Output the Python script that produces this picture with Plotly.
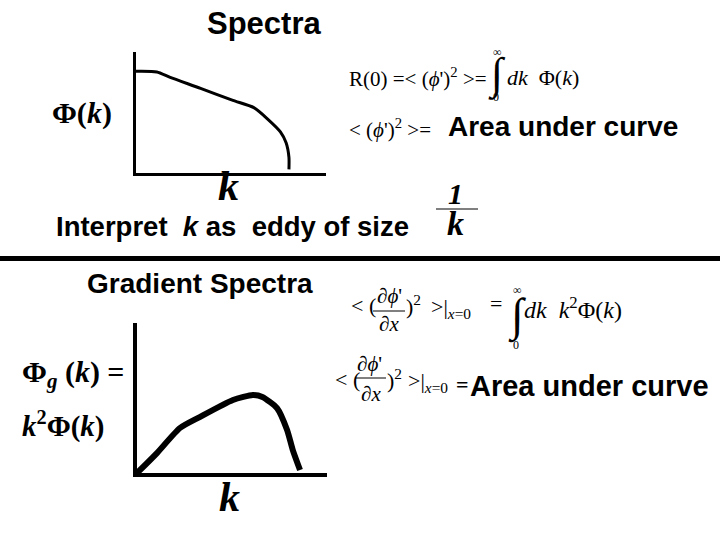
import plotly.graph_objects as go

# ---- data ----
spec_k = [0, 1.1, 1.8, 3.4, 5.1, 6.2, 6.9, 7.6, 7.9, 8.05, 8.05]
spec_phi = [8.4, 8.35, 7.9, 7.0, 6.0, 5.4, 4.5, 3.4, 2.5, 1.3, 0.3]
grad_k = [0, 1.05, 2.26, 3.3, 5.05, 6.1, 6.6, 7.37, 7.9, 8.2, 8.58]
grad_phi = [0, 1.33, 3.0, 3.73, 4.87, 5.2, 5.07, 4.33, 2.87, 1.53, 0.2]

W, H = 720, 540
SERIF = "Liberation Serif, Times New Roman, serif"
SANS = "Liberation Sans, Arial, sans-serif"


def px(x):
    return x / W


def py(y):
    return 1 - y / H


fig = go.Figure()
fig.add_trace(go.Scatter(x=spec_k, y=spec_phi, mode="lines",
                         line=dict(color="black", width=3, shape="spline", smoothing=0.6),
                         xaxis="x", yaxis="y", hoverinfo="skip"))
fig.add_trace(go.Scatter(x=grad_k, y=grad_phi, mode="lines",
                         line=dict(color="black", width=6, shape="spline", smoothing=0.6),
                         xaxis="x2", yaxis="y2", hoverinfo="skip"))

ax_common = dict(range=[0, 10], showgrid=False, zeroline=False, showticklabels=False,
                 ticks="", showline=True, linecolor="black", fixedrange=True)

anns = []


def ann(text, x, y, size, family=SERIF, xanchor="left", yanchor="middle"):
    anns.append(dict(text=text, x=px(x), y=py(y), xref="paper", yref="paper",
                     xanchor=xanchor, yanchor=yanchor, showarrow=False,
                     font=dict(size=size, family=family, color="black")))


# ---- top panel ----
ann("<b>Spectra</b>", 264, 23, 31, SANS, "center")
ann("<b>Φ(<i>k</i>)</b>", 50, 113, 30, SERIF)
ann("<b><i>k</i></b>", 228, 186, 42, SERIF, "center")
ann("R(0) =&lt; (<i>ϕ</i>')<sup>2</sup> &gt;=", 347, 78, 21, SERIF)
ann("∫", 497, 74, 44, SERIF, "center")
ann("∞", 497, 52, 12, SERIF, "center")
ann("0", 496, 97, 12, SERIF, "center")
ann("<i>dk</i>  Φ(<i>k</i>)", 505, 78, 22, SERIF)
ann("&lt; (<i>ϕ</i>')<sup>2</sup> &gt;=", 347, 128, 21, SERIF)
ann("<b>Area under curve</b>", 446, 127, 28, SANS)

# ---- middle line ----
ann("<b>Interpret  <i>k</i> as  eddy of size</b>", 54, 226, 27.5, SANS)
ann("<b><i>1</i></b>", 455, 193, 30, SERIF, "center")
ann("<b><i>k</i></b>", 455, 224, 34, SERIF, "center")

# ---- bottom panel ----
ann("<b>Gradient Spectra</b>", 200, 283, 28, SANS, "center")
ann("<b>Φ<sub><i>g</i></sub> (<i>k</i>) =</b>", 20, 374, 30, SERIF)
ann("<b><i>k</i><sup>2</sup>Φ(<i>k</i>)</b>", 20, 424, 29, SERIF)
ann("<b><i>k</i></b>", 230, 497, 42, SERIF, "center")

# formula 3
ann("&lt; (", 349, 305, 22, SERIF)
ann("∂<i>ϕ</i>'", 389, 296, 21, SERIF, "center")
ann("∂<i>x</i>", 389, 324, 21, SERIF, "center")
ann(")<sup>2</sup>", 404, 305, 22, SERIF)
ann("&gt;|<sub><i>x</i>=0</sub>", 429, 308, 22, SERIF)
ann("=", 488, 303, 22, SERIF)
ann("∫", 517, 316, 46, SERIF, "center")
ann("∞", 517, 290, 12, SERIF, "center")
ann("0", 516, 345, 12, SERIF, "center")
ann("<i>dk</i>  <i>k</i><sup>2</sup>Φ(<i>k</i>)", 522, 308, 24, SERIF)

# formula 4
ann("&lt; (", 333, 379, 22, SERIF)
ann("∂<i>ϕ</i>'", 370, 364, 21, SERIF, "center")
ann("∂<i>x</i>", 371, 394, 21, SERIF, "center")
ann(")<sup>2</sup>", 385, 379, 22, SERIF)
ann("&gt;|<sub><i>x</i>=0</sub>", 406, 382, 22, SERIF)
ann("<b>=</b>", 454, 385, 22, SERIF)
ann("<b>Area under curve</b>", 468, 386, 29, SANS)

shapes = [
    dict(type="line", xref="paper", yref="paper", x0=0, x1=1, y0=py(258.5), y1=py(258.5),
         line=dict(color="black", width=5)),
    dict(type="line", xref="paper", yref="paper", x0=px(436), x1=px(478), y0=py(209), y1=py(209),
         line=dict(color="black", width=1)),
    dict(type="line", xref="paper", yref="paper", x0=px(373), x1=px(405), y0=py(311), y1=py(311),
         line=dict(color="black", width=1)),
    dict(type="line", xref="paper", yref="paper", x0=px(355), x1=px(386), y0=py(378), y1=py(378),
         line=dict(color="black", width=1)),
]

fig.update_layout(
    width=W, height=H, margin=dict(l=0, r=0, t=0, b=0),
    paper_bgcolor="white", plot_bgcolor="white", showlegend=False,
    xaxis=dict(domain=[px(136), px(326)], anchor="y", linewidth=3, **ax_common),
    yaxis=dict(domain=[py(173), py(52)], anchor="x", linewidth=3, **ax_common),
    xaxis2=dict(domain=[px(137), px(327)], anchor="y2", linewidth=4, **ax_common),
    yaxis2=dict(domain=[py(473), py(323)], anchor="x2", linewidth=4, **ax_common),
    annotations=anns, shapes=shapes,
)

fig.write_html("out.html", config={"displayModeBar": False},
               post_script="document.body.style.margin='0';")
